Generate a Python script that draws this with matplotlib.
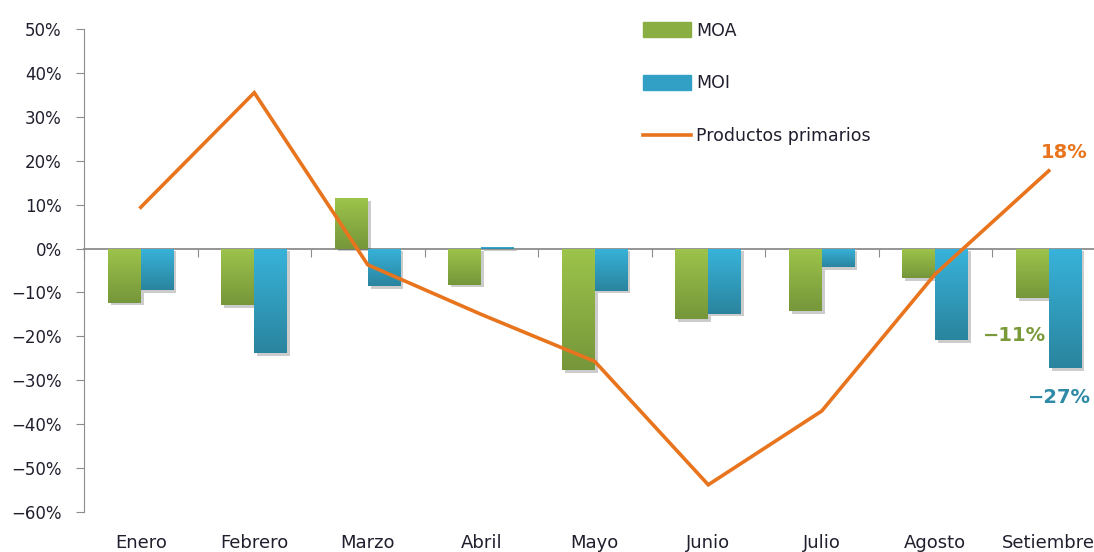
import numpy as np
import matplotlib
matplotlib.use("Agg")
import matplotlib.pyplot as plt
import matplotlib.patheffects as pe
from matplotlib.colors import LinearSegmentedColormap
from matplotlib.patches import Patch
from matplotlib.lines import Line2D
from matplotlib.ticker import FuncFormatter

# Data (in %)
meses = ["Enero", "Febrero", "Marzo", "Abril", "Mayo", "Junio", "Julio", "Agosto", "Setiembre"]
moa = [-12.3, -12.8, 11.4, -8.2, -27.6, -16.0, -14.3, -6.8, -11.3]
moi = [-9.5, -23.8, -8.6, 0.4, -9.6, -14.8, -4.2, -20.9, -27.3]
primarios = [9.4, 35.5, -3.7, -15.0, -25.7, -53.8, -37.0, -5.8, 17.7]
etiquetas_fin = ["18%", "\u221211%", "\u221227%"]

# Styles
gris = "#8c8c8c"
texto = "#1f1f2e"
verde = ("#9dc44b", "#76963a")
azul = ("#38b3da", "#2a849e")
naranja = "#e8751e"

plt.rcParams["font.family"] = ["DejaVu Sans"]

fig = plt.figure(figsize=(10.94, 5.52), dpi=100)
ax = fig.add_axes([84 / 1094, 40 / 552, (1105.5 - 84) / 1094, 483 / 552])

x = np.arange(len(meses))
w = 0.29


def gradient_bars(bars, top, bottom):
    cmap = LinearSegmentedColormap.from_list("g", [top, bottom])
    grad = np.linspace(0, 1, 256).reshape(-1, 1)
    for b in bars:
        x0, y0 = b.get_x(), b.get_y()
        h = b.get_height()
        lo, hi = min(y0, y0 + h), max(y0, y0 + h)
        im = ax.imshow(grad, cmap=cmap, aspect="auto", origin="upper",
                       extent=(x0, x0 + b.get_width(), lo, hi), zorder=3)
        im.set_clip_path(b)


shadow = [pe.SimplePatchShadow(offset=(2, -2), shadow_rgbFace="#000000", alpha=0.2), pe.Normal()]
b1 = ax.bar(x - w / 2, moa, w, color="#8aae42", zorder=2, path_effects=shadow)
b2 = ax.bar(x + w / 2, moi, w, color="#31a0c4", zorder=2, path_effects=shadow)
gradient_bars(b1, *verde)
gradient_bars(b2, *azul)

ax.plot(x, primarios, color=naranja, lw=2.6, zorder=5, solid_joinstyle="miter")

ax.set_xlim(-0.5, len(meses) - 0.5)
ax.set_ylim(-60, 50)

# Axes look
for s in ["top", "right"]:
    ax.spines[s].set_visible(False)
ax.spines["left"].set_color(gris)
ax.spines["bottom"].set_position(("data", 0))
ax.spines["bottom"].set_color(gris)
ax.spines["bottom"].set_linewidth(1.3)
ax.spines["bottom"].set_zorder(1)

ax.set_yticks(np.arange(-60, 51, 10))
ax.yaxis.set_major_formatter(FuncFormatter(lambda v, p: f"{v:.0f}%".replace("-", "\u2212")))
ax.tick_params(axis="y", direction="out", length=6, color=gris, pad=10,
               labelsize=12, labelcolor=texto)
ax.set_xticks(np.arange(-0.5, len(meses), 1))
ax.tick_params(axis="x", direction="out", length=6, color=gris, labelbottom=False)

sec = ax.secondary_xaxis("bottom")
sec.set_xticks(x, labels=meses)
sec.tick_params(length=0, pad=16, labelsize=13, labelcolor=texto)
sec.spines["bottom"].set_visible(False)

# End labels for Setiembre
ax.annotate(etiquetas_fin[0], (x[-1], primarios[-1]), xytext=(11, 13), textcoords="offset points",
            ha="center", va="center", fontsize=14, fontweight="bold", color=naranja)
ax.annotate(etiquetas_fin[1], (x[-1] - w / 2, moa[-1]), xytext=(-13, -27), textcoords="offset points",
            ha="center", va="center", fontsize=14, fontweight="bold", color="#7a9a3a",
            annotation_clip=False)
ax.annotate(etiquetas_fin[2], (x[-1] + w / 2, moi[-1]), xytext=(-4, -21), textcoords="offset points",
            ha="center", va="center", fontsize=14, fontweight="bold", color="#2e8aa6",
            annotation_clip=False)

handles = [Patch(color="#8aae42"), Patch(color="#31a0c4"), Line2D([], [], color=naranja, lw=2.6)]
fig.legend(handles, ["MOA", "MOI", "Productos primarios"], loc="upper left",
           bbox_to_anchor=(634 / 1094, 539 / 552),
           frameon=False, borderpad=0, fontsize=12.5, handlelength=2.8, handleheight=0.9,
           handletextpad=0.3, labelspacing=2.0, labelcolor=texto)

fig.savefig("out.png", dpi=100)
